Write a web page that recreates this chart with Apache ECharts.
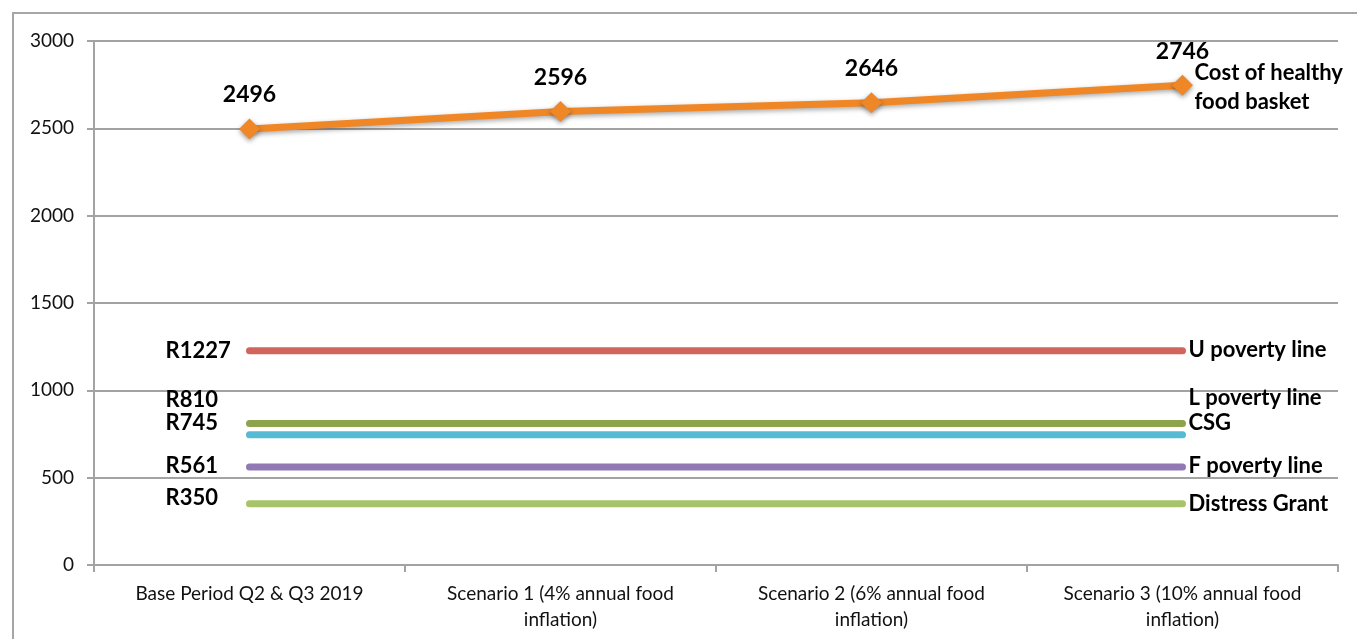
<!DOCTYPE html>
<html>
<head>
<meta charset="utf-8">
<title>Cost of healthy food basket vs poverty lines and grants</title>
<script src="https://cdn.jsdelivr.net/npm/echarts@6/dist/echarts.min.js"></script>
<style>
  html, body { margin: 0; padding: 0; background: #fff; }
  #chart { width: 1357px; height: 639px; }
</style>
</head>
<body>
<div id="chart"></div>
<script>
// Scenarios on the category axis
const categories = [
  'Base Period Q2 & Q3 2019',
  'Scenario 1 (4% annual food\ninflation)',
  'Scenario 2 (6% annual food\ninflation)',
  'Scenario 3 (10% annual food\ninflation)'
];

// Monthly cost of the healthy food basket (Rand)
const basketCost = [2496, 2596, 2646, 2746];
const basketName = 'Cost of healthy\nfood basket';

// Reference thresholds (Rand per month)
const thresholdNames = ['U poverty line', 'L poverty line', 'CSG', 'F poverty line', 'Distress Grant'];
const thresholdValues = [1227, 810, 745, 561, 350];
const thresholdTags = ['R1227', 'R810', 'R745', 'R561', 'R350'];

// Value axis ticks
const yTicks = [0, 500, 1000, 1500, 2000, 2500, 3000];

// Styling
const thresholdColors = ['#D1655E', '#8DA34C', '#57BAD4', '#9079B4', '#A8C46B'];
const tagOffsets = [0, -24, -12, -1, -6];
const nameOffsets = [-1, -26, -12, -1, 0];
const FONT = 'Lato, "Open Sans", sans-serif';
const GRID_GREY = '#A3A3A3';

const chart = echarts.init(document.getElementById('chart'));

const thresholdSeries = thresholdValues.map((v, k) => ({
  name: thresholdNames[k],
  type: 'line',
  z: 2,
  symbol: 'circle',
  symbolSize: 0,
  showSymbol: true,
  silent: true,
  lineStyle: { color: thresholdColors[k], width: 7, cap: 'round' },
  itemStyle: { color: thresholdColors[k] },
  label: {
    show: true,
    position: 'left',
    align: 'left',
    distance: 84,
    offset: [0, tagOffsets[k]],
    formatter: (p) => (p.dataIndex === 0 ? thresholdTags[k] : ''),
    fontFamily: FONT,
    fontWeight: 'bold',
    fontSize: 22,
    color: '#000'
  },
  data: categories.map(() => v),
  endLabel: {
    show: true,
    formatter: thresholdNames[k],
    distance: 6,
    offset: [0, nameOffsets[k]],
    fontFamily: FONT,
    fontWeight: 'bold',
    fontSize: 22,
    color: '#000'
  }
}));

const option = {
  animation: false,
  backgroundColor: '#fff',
  grid: { left: 94, right: 19, top: 41, bottom: 74, containLabel: false },
  graphic: [{
    type: 'rect',
    silent: true,
    shape: { x: 13, y: 13, width: 1400, height: 700 },
    style: { fill: 'none', stroke: '#A6A6A6', lineWidth: 2 }
  }],
  xAxis: {
    type: 'category',
    data: categories,
    boundaryGap: true,
    axisLine: { lineStyle: { color: GRID_GREY, width: 2 } },
    axisTick: { show: true, length: 7, lineStyle: { color: GRID_GREY, width: 2 } },
    axisLabel: {
      interval: 0,
      margin: 16,
      fontFamily: FONT,
      fontSize: 19,
      lineHeight: 26,
      color: '#111',
      align: 'center'
    },
    splitLine: { show: false }
  },
  yAxis: {
    type: 'value',
    min: yTicks[0],
    max: yTicks[yTicks.length - 1],
    interval: yTicks[1] - yTicks[0],
    axisLine: { show: true, lineStyle: { color: GRID_GREY, width: 2 } },
    axisTick: { show: true, length: 7, lineStyle: { color: GRID_GREY, width: 2 } },
    axisLabel: {
      margin: 20,
      formatter: (v) => String(v),
      fontFamily: FONT,
      fontSize: 19,
      color: '#111'
    },
    splitLine: { show: true, lineStyle: { color: GRID_GREY, width: 2 } }
  },
  series: [
    ...thresholdSeries,
    {
      name: basketName,
      type: 'line',
      z: 5,
      silent: true,
      data: basketCost,
      symbol: 'diamond',
      symbolSize: 21,
      lineStyle: {
        color: '#EF8727',
        width: 7,
        shadowColor: 'rgba(0,0,0,0.35)',
        shadowBlur: 5,
        shadowOffsetY: 2
      },
      itemStyle: {
        color: '#EF8727',
        shadowColor: 'rgba(0,0,0,0.4)',
        shadowBlur: 5,
        shadowOffsetY: 2
      },
      label: {
        show: true,
        position: 'top',
        distance: 12,
        fontFamily: FONT,
        fontWeight: 'bold',
        fontSize: 23,
        color: '#000'
      },
      endLabel: {
        show: true,
        formatter: basketName,
        distance: 12,
        offset: [0, 2],
        fontFamily: FONT,
        fontWeight: 'bold',
        fontSize: 22,
        lineHeight: 29,
        color: '#000'
      }
    }
  ]
};

chart.setOption(option);
</script>
</body>
</html>
